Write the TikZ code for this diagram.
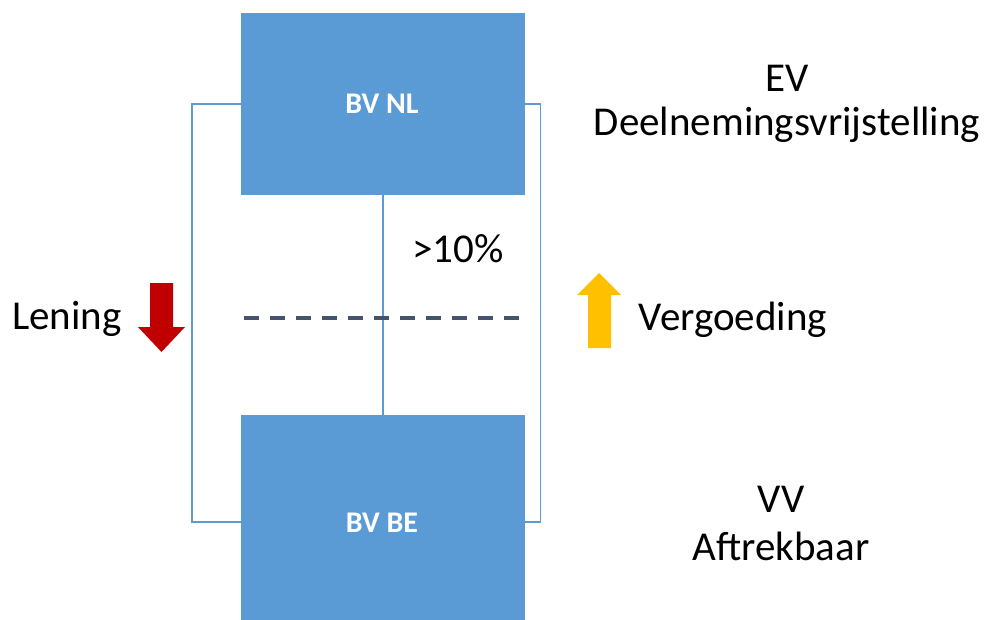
\documentclass[tikz,border=0pt]{standalone}
\usepackage{fontspec}
\setmainfont{Carlito}
\definecolor{boxblue}{HTML}{5B9BD5}
\definecolor{slate}{HTML}{44546A}
\definecolor{darkred}{HTML}{C00000}
\definecolor{amber}{HTML}{FFC000}
\tikzset{
  entity/.style={rectangle, fill=boxblue, draw=none, minimum width=284pt, inner sep=0pt},
  entitytext/.style={text=white, font=\fontsize{30}{34}\selectfont\bfseries, inner sep=0pt, anchor=base},
  link/.style={draw=boxblue, line width=1.4pt},
  divider/.style={draw=slate, line width=3.2pt, dash pattern=on 15pt off 11pt},
  label/.style={font=\fontsize{41}{48}\selectfont, text=black, inner sep=0pt, anchor=base},
}
\begin{document}
\begin{tikzpicture}[x=1pt,y=-1pt]
  \useasboundingbox (0,0) rectangle (984,620);
  \begin{scope}
    \clip (0,0) rectangle (984,620);
    % the two companies
    \node[entity, minimum height=182pt] (nl) at (383,104) {};
    \node[entity, minimum height=214pt] (be) at (383,522) {};
  \end{scope}
  \node[entitytext] (nltxt) at (382,114) {BV NL};
  \node[entitytext] (betxt) at (382,532) {BV BE};

  % shareholding and flows
  \draw[link] (nl.south) -- (be.north);
  \draw[link] (nl.west) -- ++(-49,0) |- (be.west);
  \draw[link] (nl.east) -- ++(15,0) |- (be.east);

  % border line
  \coordinate (dl) at (244,318);
  \coordinate (dr) at (522,318);
  \draw[divider] (dl) -- (dr);

  % loan and payment arrows
  \fill[darkred] (150,283) -- (173,283) -- (173,327) -- (185,327) -- (161.5,352)
    -- (138,327) -- (150,327) -- cycle;
  \fill[amber] (588,348) -- (611,348) -- (611,295) -- (621,295) -- (599,273)
    -- (577,295) -- (588,295) -- cycle;

  % labels
  \node[label] (pct) at (458,262) {>10\%};
  \node[label] (len) at (67,329) {Lening};
  \node[label] (verg) at (733,330) {Vergoeding};
  \node[label] (ev) at (787,92) {EV};
  \node[label] (dv) at (787,136) {Deelnemingsvrijstelling};
  \node[label] (vv) at (781,512) {VV};
  \node[label] (af) at (781,560) {Aftrekbaar};
\end{tikzpicture}
\end{document}
